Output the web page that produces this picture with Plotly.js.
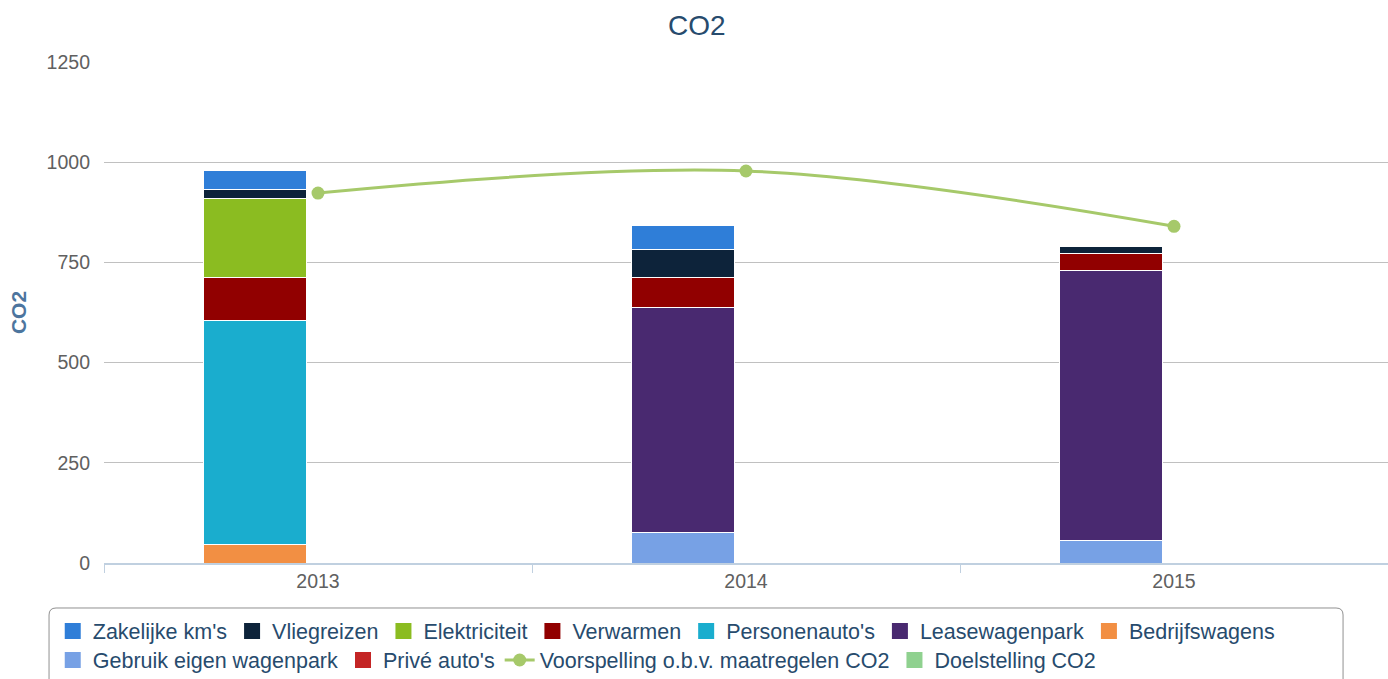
<!DOCTYPE html>
<html>
<head>
<meta charset="utf-8">
<script src="https://cdn.plot.ly/plotly-3.0.1.min.js"></script>
<style>html,body{margin:0;padding:0;background:#fff;}#chart{width:1388px;height:679px;}</style>
</head>
<body>
<div id="chart"></div>
<script>
var years = ['2013', '2014', '2015'];
var zakelijkeKms = [47, 62, null];
var vliegreizen = [23, 68, 17];
var elektriciteit = [197, null, null];
var verwarmen = [107, 75, 42];
var personenautos = [561, null, null];
var leasewagenpark = [null, 561, 676];
var bedrijfswagens = [45, null, null];
var gebruikEigenWagenpark = [null, 77, 55];
var priveAutos = [null, null, null];
var voorspelling = [923, 978, 840];
var doelstelling = [null, null, null];

var barSeries = [
  ['Zakelijke km\'s', zakelijkeKms, '#2f7ed8', 'legend'],
  ['Vliegreizen', vliegreizen, '#0d233a', 'legend'],
  ['Elektriciteit', elektriciteit, '#8bbc21', 'legend'],
  ['Verwarmen', verwarmen, '#910000', 'legend'],
  ['Personenauto\'s', personenautos, '#1aadce', 'legend'],
  ['Leasewagenpark', leasewagenpark, '#492970', 'legend'],
  ['Bedrijfswagens', bedrijfswagens, '#f28f43', 'legend'],
  ['Gebruik eigen wagenpark', gebruikEigenWagenpark, '#77a1e5', 'legend2'],
  ['Privé auto\'s', priveAutos, '#c42525', 'legend2']
];

var traces = [];
// bars: stacked bottom-up in reverse legend order
barSeries.slice().reverse().forEach(function (s) {
  traces.push({
    type: 'bar', name: s[0], x: years, y: s[1],
    marker: {color: s[2], line: {color: '#ffffff', width: 1}},
    width: 0.24, offset: -0.267,
    legendgroup: s[0], showlegend: false,
    hoverinfo: 'x+y+name'
  });
});
// legend entries for the bars (larger square symbols)
barSeries.forEach(function (s, i) {
  traces.push({
    type: 'scatter', mode: 'markers', name: s[0], x: [null], y: [null],
    marker: {color: s[2], symbol: 'square', size: 16},
    legendgroup: s[0], legend: s[3], legendrank: i + 1, hoverinfo: 'skip'
  });
});
traces.push({
  type: 'scatter', mode: 'lines+markers', name: 'Voorspelling o.b.v. maatregelen CO2',
  x: years, y: voorspelling,
  line: {color: '#a6c96a', width: 3, shape: 'spline', smoothing: 1},
  marker: {color: '#a6c96a', size: 13},
  legend: 'legend2', legendrank: 10
});
traces.push({
  type: 'bar', name: 'Doelstelling CO2', x: years, y: doelstelling,
  marker: {color: '#8fd18f'}, width: 0.24, offset: 0.03,
  legendgroup: 'doel', showlegend: false
});
traces.push({
  type: 'scatter', mode: 'markers', name: 'Doelstelling CO2', x: [null], y: [null],
  marker: {color: '#8fd18f', symbol: 'square', size: 16},
  legendgroup: 'doel', legend: 'legend2', legendrank: 11, hoverinfo: 'skip'
});

// rounded legend frame in paper coordinates
var x0 = -0.0428, x1 = 0.965, yTop = -0.0898, yBot = -0.3;
var rx = 7 / 1284, ry = 7 / 501;
var framePath = 'M' + (x0 + rx) + ',' + yTop + ' L' + (x1 - rx) + ',' + yTop +
  ' Q' + x1 + ',' + yTop + ' ' + x1 + ',' + (yTop - ry) +
  ' L' + x1 + ',' + yBot + ' L' + x0 + ',' + yBot +
  ' L' + x0 + ',' + (yTop - ry) + ' Q' + x0 + ',' + yTop + ' ' + (x0 + rx) + ',' + yTop + ' Z';

var legendFont = {size: 21.5, color: '#274b6d', family: 'Liberation Sans, Arial, sans-serif'};
var layout = {
  width: 1388, height: 679,
  margin: {l: 104, r: 0, t: 62, b: 116, autoexpand: false},
  paper_bgcolor: '#ffffff', plot_bgcolor: '#ffffff',
  barmode: 'stack',
  font: {family: 'Liberation Sans, Arial, sans-serif', color: '#606060'},
  title: {text: 'CO2', x: 0.502, xref: 'container', y: 1 - 25 / 679, yanchor: 'middle', font: {size: 28, color: '#274b6d'}},
  xaxis: {
    type: 'category', range: [-0.5, 2.5],
    tickson: 'boundaries', ticks: 'outside', ticklen: 8, tickcolor: '#c0d0e0',
    showline: true, linecolor: '#c0d0e0', linewidth: 2,
    showgrid: false, tickfont: {size: 19.5, color: '#606060'}
  },
  yaxis: {
    range: [0, 1250], tickvals: [0, 250, 500, 750, 1000, 1250],
    showgrid: true, gridcolor: '#c0c0c0', gridwidth: 1,
    zeroline: false, showline: false,
    ticks: '', ticklabelstandoff: 13,
    tickfont: {size: 19.5, color: '#606060'},
    title: {text: 'CO2', font: {size: 21, color: '#4d759e', weight: 'bold'}, standoff: 14}
  },
  legend: {
    orientation: 'h', xref: 'container', yref: 'container',
    x: 0.038, xanchor: 'left', y: 1 - 631 / 679, yanchor: 'middle',
    borderwidth: 0, bgcolor: 'rgba(0,0,0,0)', font: legendFont, traceorder: 'normal'
  },
  legend2: {
    orientation: 'h', xref: 'container', yref: 'container',
    x: 0.038, xanchor: 'left', y: 1 - 660 / 679, yanchor: 'middle',
    borderwidth: 0, bgcolor: 'rgba(0,0,0,0)', font: legendFont, traceorder: 'normal'
  },
  shapes: [{
    type: 'path', xref: 'paper', yref: 'paper', path: framePath,
    line: {color: '#909090', width: 1}, fillcolor: 'rgba(0,0,0,0)', layer: 'below'
  }],
  showlegend: true
};

Plotly.newPlot('chart', traces, layout, {displayModeBar: false});
</script>
</body>
</html>
